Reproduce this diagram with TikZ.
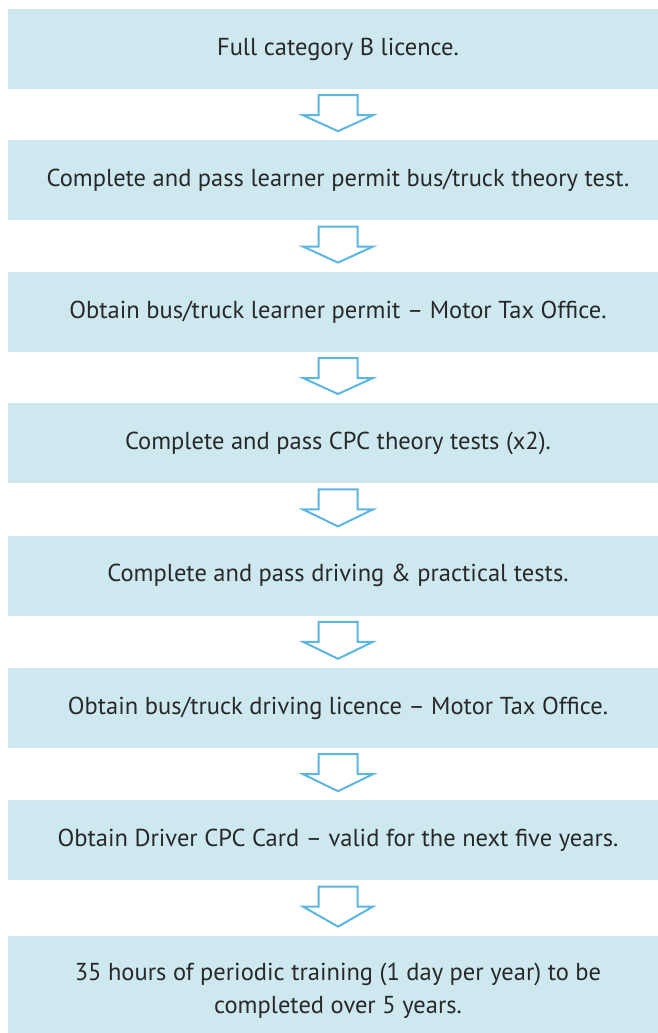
\documentclass[tikz,border=0pt]{standalone}
\usepackage{fontspec}
\setmainfont{PT Sans}
\usetikzlibrary{positioning, calc}

\definecolor{boxblue}{RGB}{205,233,239}
\definecolor{arrowblue}{RGB}{91,182,224}
\definecolor{textgray}{RGB}{40,40,40}

\tikzset{
    stepbox/.style = {fill = boxblue, text = textgray, minimum width = 660pt,
        minimum height = 80pt, inner sep = 0pt, align = center,
        font = \fontsize{24.5}{33}\selectfont},
    flowarrow/.style = {draw = arrowblue, line width = 2pt, fill = white, line join = miter}
}

% hollow block arrow from one step to the next
\newcommand{\stepflow}[2]{%
    \draw [flowarrow] ($(#1.south) + (-19.5, 6)$) -- ($(#1.south) + (19.5, 6)$)
        -- ($(#1.south) + (19.5, 26)$) -- ($(#1.south) + (35, 26)$)
        -- ($(#2.north) + (0, -9)$)
        -- ($(#1.south) + (-35, 26)$) -- ($(#1.south) + (-19.5, 26)$) -- cycle;
}

\begin{document}
\begin{tikzpicture}[x = 1pt, y = -1pt]
        \useasboundingbox (0, 0) rectangle (658, 1033);
        \node [stepbox] (licence) at (338, 49) {Full category B licence.};
        \node [stepbox, below = 51pt of licence] (theory) {Complete and pass learner permit bus/truck theory test.};
        \node [stepbox, below = 51pt of theory] (permit) {Obtain bus/truck learner permit -- Motor Tax Office.};
        \node [stepbox, below = 51pt of permit] (cpc) {Complete and pass CPC theory tests (x2).};
        \node [stepbox, below = 52pt of cpc] (practical) {Complete and pass driving \& practical tests.};
        \node [stepbox, below = 52pt of practical] (driving) {Obtain bus/truck driving licence -- Motor Tax Office.};
        \node [stepbox, below = 52pt of driving] (card) {Obtain Driver CPC Card -- valid for the next five years.};
        \node [stepbox, minimum height = 110pt, below = 55pt of card] (periodic) {35 hours of periodic training (1 day per year) to be\\completed over 5 years.};
        \foreach \a/\b in {licence/theory, theory/permit, permit/cpc, cpc/practical,
            practical/driving, driving/card, card/periodic}
            {\stepflow{\a}{\b}}
    \end{tikzpicture}
\end{document}
